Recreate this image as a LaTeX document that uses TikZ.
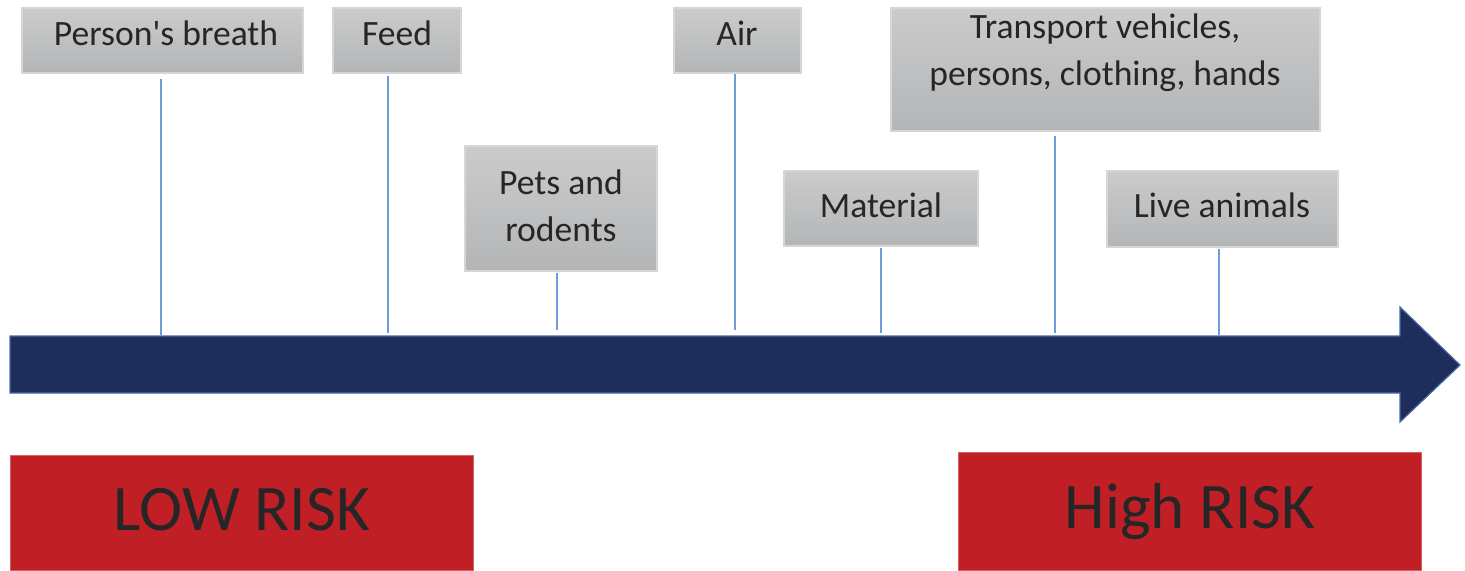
\documentclass[tikz,border=0pt]{standalone}
\usepackage{fontspec}
\setmainfont{Carlito}[Ligatures=TeXOff]
\definecolor{boxtop}{HTML}{CBCBCB}
\definecolor{boxbot}{HTML}{B3B5B7}
\definecolor{boxedge}{HTML}{D6D6D6}
\definecolor{navy}{HTML}{1E2D59}
\definecolor{navyedge}{HTML}{4A6AA8}
\definecolor{conncol}{HTML}{6F9BD8}
\definecolor{riskred}{HTML}{C01F26}
\definecolor{txtdark}{HTML}{262626}
\begin{document}
\begin{tikzpicture}[x=0.5pt,y=-0.5pt,
  greybox/.style={draw=boxedge, line width=0.6pt, top color=boxtop, bottom color=boxbot, inner sep=0pt},
  lbl/.style={text=txtdark, font=\fontsize{17.8}{23.5}\selectfont, align=center, inner sep=0pt},
  redbox/.style={fill=riskred, draw=riskred!70!white, line width=0.5pt},
  risk/.style={text=txtdark, font=\fontsize{32.5}{38}\selectfont, inner sep=0pt, anchor=base},
  conn/.style={draw=conncol, line width=0.9pt}]
\useasboundingbox (0,0) rectangle (1465,570);
% grey boxes
\node[greybox, minimum width=140.5pt, minimum height=32.5pt] (pb) at (162.5,40.5) {};
\node[greybox, minimum width=64pt, minimum height=32.5pt] (fd) at (397,40.5) {};
\node[greybox, minimum width=96pt, minimum height=62.5pt] (pr) at (561,208.5) {};
\node[greybox, minimum width=63.5pt, minimum height=32.5pt] (ai) at (737.5,40.5) {};
\node[greybox, minimum width=214.5pt, minimum height=61.5pt] (tv) at (1105.5,69.5) {};
\node[greybox, minimum width=97pt, minimum height=37.5pt] (ma) at (881,208.5) {};
\node[greybox, minimum width=115.5pt, minimum height=38pt] (la) at (1222.5,209) {};
% labels
\node[lbl, anchor=base] (tpb) at (166,45) {Person's breath};
\node[lbl, anchor=base] (tfd) at (397,45) {Feed};
\node[lbl, anchor=base] (tai) at (737,45) {Air};
\node[lbl, anchor=base] (tma) at (881,217) {Material};
\node[lbl, anchor=base] (tla) at (1222,217) {Live animals};
\node[lbl] (tpr) at (561,206) {Pets and\\rodents};
\node[lbl] (ttv) at (1105,53) {Transport vehicles,\\persons, clothing, hands};
% arrow
\draw[fill=navy, draw=navyedge, line width=0.6pt]
  (10,336) -- (1400,336) -- (1400,307) -- (1460,365) -- (1400,422) -- (1400,393) -- (10,393) -- cycle;
\coordinate (a1) at (161,335);
\coordinate (a2) at (388,333);
\coordinate (a3) at (557,330);
\coordinate (a4) at (735,330);
\coordinate (a5) at (881,333);
\coordinate (a6) at (1055,333);
\coordinate (a7) at (1219,335);
% connectors
\draw[conn, shorten <=2.5pt] (pb.south -| a1) -- (a1);
\draw[conn, shorten <=1pt] (fd.south -| a2) -- (a2);
\draw[conn, shorten <=0.5pt] (pr.south -| a3) -- (a3);
\draw[conn] (ai.south -| a4) -- (a4);
\draw[conn, shorten <=0.5pt] (ma.south -| a5) -- (a5);
\draw[conn, shorten <=2pt] (tv.south -| a6) -- (a6);
\draw[conn, shorten <=0.5pt] (la.south -| a7) -- (a7);
% risk boxes
\node[redbox, minimum width=231.5pt, minimum height=57.5pt, inner sep=0pt] (low) at (241.5,512.5) {};
\node[redbox, minimum width=231.5pt, minimum height=59pt, inner sep=0pt] (high) at (1189.5,511) {};
\node[risk] (tlow) at (242,530) {LOW RISK};
\node[risk] (thigh) at (1190,528) {High RISK};
\end{tikzpicture}
\end{document}
